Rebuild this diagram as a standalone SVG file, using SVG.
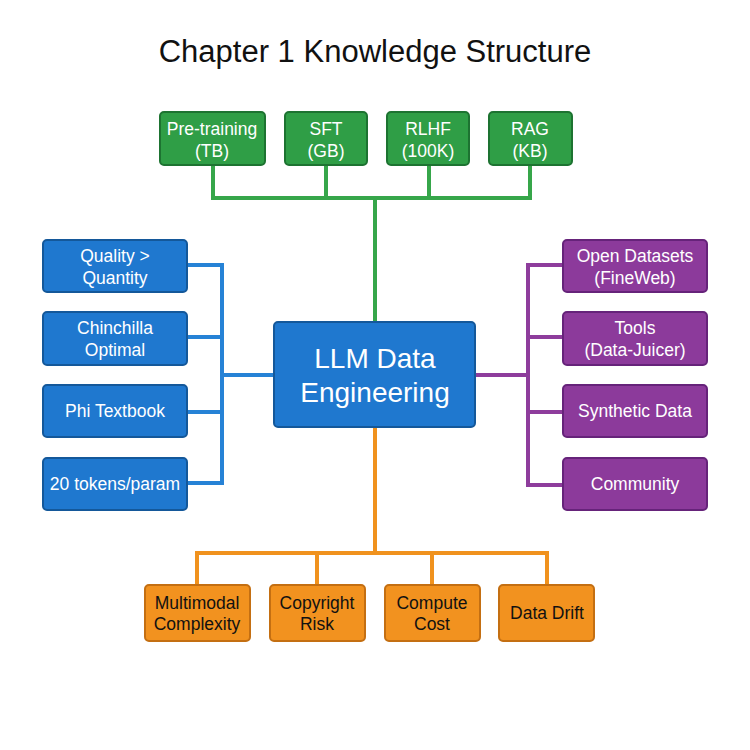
<svg xmlns="http://www.w3.org/2000/svg" width="750" height="750" viewBox="0 0 750 750">
<style>
text{font-family:"Liberation Sans",Arial,sans-serif;text-anchor:middle}
.t{font-size:17.5px;fill:#fff}
.to{font-size:17.5px;fill:#111}
.g{fill:#2f9e46;stroke:#1d7331;stroke-width:2}
.b{fill:#1f78cf;stroke:#14589a;stroke-width:2}
.p{fill:#8c3a9b;stroke:#66237a;stroke-width:2}
.o{fill:#f2921f;stroke:#c46f12;stroke-width:2}
.c{fill:none;stroke-width:4;stroke-linejoin:miter}
</style>
<rect width="750" height="750" fill="#fff"/>
<text x="375" y="62" style="font-size:31px;fill:#111">Chapter 1 Knowledge Structure</text>
<g id="connectors">
<path class="c" stroke="#36a64a" d="M213 165V198H530V165M326 165V198M429 165V198M375 198V322"/>
<path class="c" stroke="#2682d6" d="M187 265H222V483H187M187 337H222M187 412H222M222 375H274"/>
<path class="c" stroke="#8e3d9c" d="M563 265H528V485H563M563 337H528M563 412H528M528 375H475"/>
<path class="c" stroke="#f0921e" d="M375 427V553M197 585V553H547V585M317 553V585M432 553V585"/>
</g>
<g id="center"><rect class="b" x="274" y="322" width="201" height="105" rx="4"/><text class="t" x="375" y="368" style="font-size:28px">LLM Data</text><text class="t" x="375" y="402" style="font-size:28px">Engineering</text></g>
<g id="pretraining"><rect class="g" x="160" y="112" width="105" height="53" rx="4"/><text class="t" x="212" y="135">Pre-training</text><text class="t" x="212" y="157">(TB)</text></g>
<g id="sft"><rect class="g" x="285" y="112" width="82" height="53" rx="4"/><text class="t" x="326" y="135">SFT</text><text class="t" x="326" y="157">(GB)</text></g>
<g id="rlhf"><rect class="g" x="387" y="112" width="82" height="53" rx="4"/><text class="t" x="428" y="135">RLHF</text><text class="t" x="428" y="157">(100K)</text></g>
<g id="rag"><rect class="g" x="489" y="112" width="83" height="53" rx="4"/><text class="t" x="530" y="135">RAG</text><text class="t" x="530" y="157">(KB)</text></g>
<g id="quality"><rect class="b" x="43" y="240" width="144" height="52" rx="4"/><text class="t" x="115" y="262">Quality &gt;</text><text class="t" x="115" y="284">Quantity</text></g>
<g id="chinchilla"><rect class="b" x="43" y="312" width="144" height="53" rx="4"/><text class="t" x="115" y="334">Chinchilla</text><text class="t" x="115" y="356">Optimal</text></g>
<g id="phi"><rect class="b" x="43" y="385" width="144" height="52" rx="4"/><text class="t" x="115" y="417">Phi Textbook</text></g>
<g id="tokens"><rect class="b" x="43" y="458" width="144" height="52" rx="4"/><text class="t" x="115" y="490">20 tokens/param</text></g>
<g id="open"><rect class="p" x="563" y="240" width="144" height="52" rx="4"/><text class="t" x="635" y="262">Open Datasets</text><text class="t" x="635" y="284">(FineWeb)</text></g>
<g id="tools"><rect class="p" x="563" y="312" width="144" height="53" rx="4"/><text class="t" x="635" y="334">Tools</text><text class="t" x="635" y="356">(Data-Juicer)</text></g>
<g id="synthetic"><rect class="p" x="563" y="385" width="144" height="52" rx="4"/><text class="t" x="635" y="417">Synthetic Data</text></g>
<g id="community"><rect class="p" x="563" y="458" width="144" height="52" rx="4"/><text class="t" x="635" y="490">Community</text></g>
<g id="multimodal"><rect class="o" x="145" y="585" width="105" height="56" rx="4"/><text class="to" x="197" y="609">Multimodal</text><text class="to" x="197" y="630">Complexity</text></g>
<g id="copyright"><rect class="o" x="270" y="585" width="95" height="56" rx="4"/><text class="to" x="317" y="609">Copyright</text><text class="to" x="317" y="630">Risk</text></g>
<g id="compute"><rect class="o" x="385" y="585" width="95" height="56" rx="4"/><text class="to" x="432" y="609">Compute</text><text class="to" x="432" y="630">Cost</text></g>
<g id="drift"><rect class="o" x="499" y="585" width="95" height="56" rx="4"/><text class="to" x="547" y="619">Data Drift</text></g>
</svg>
